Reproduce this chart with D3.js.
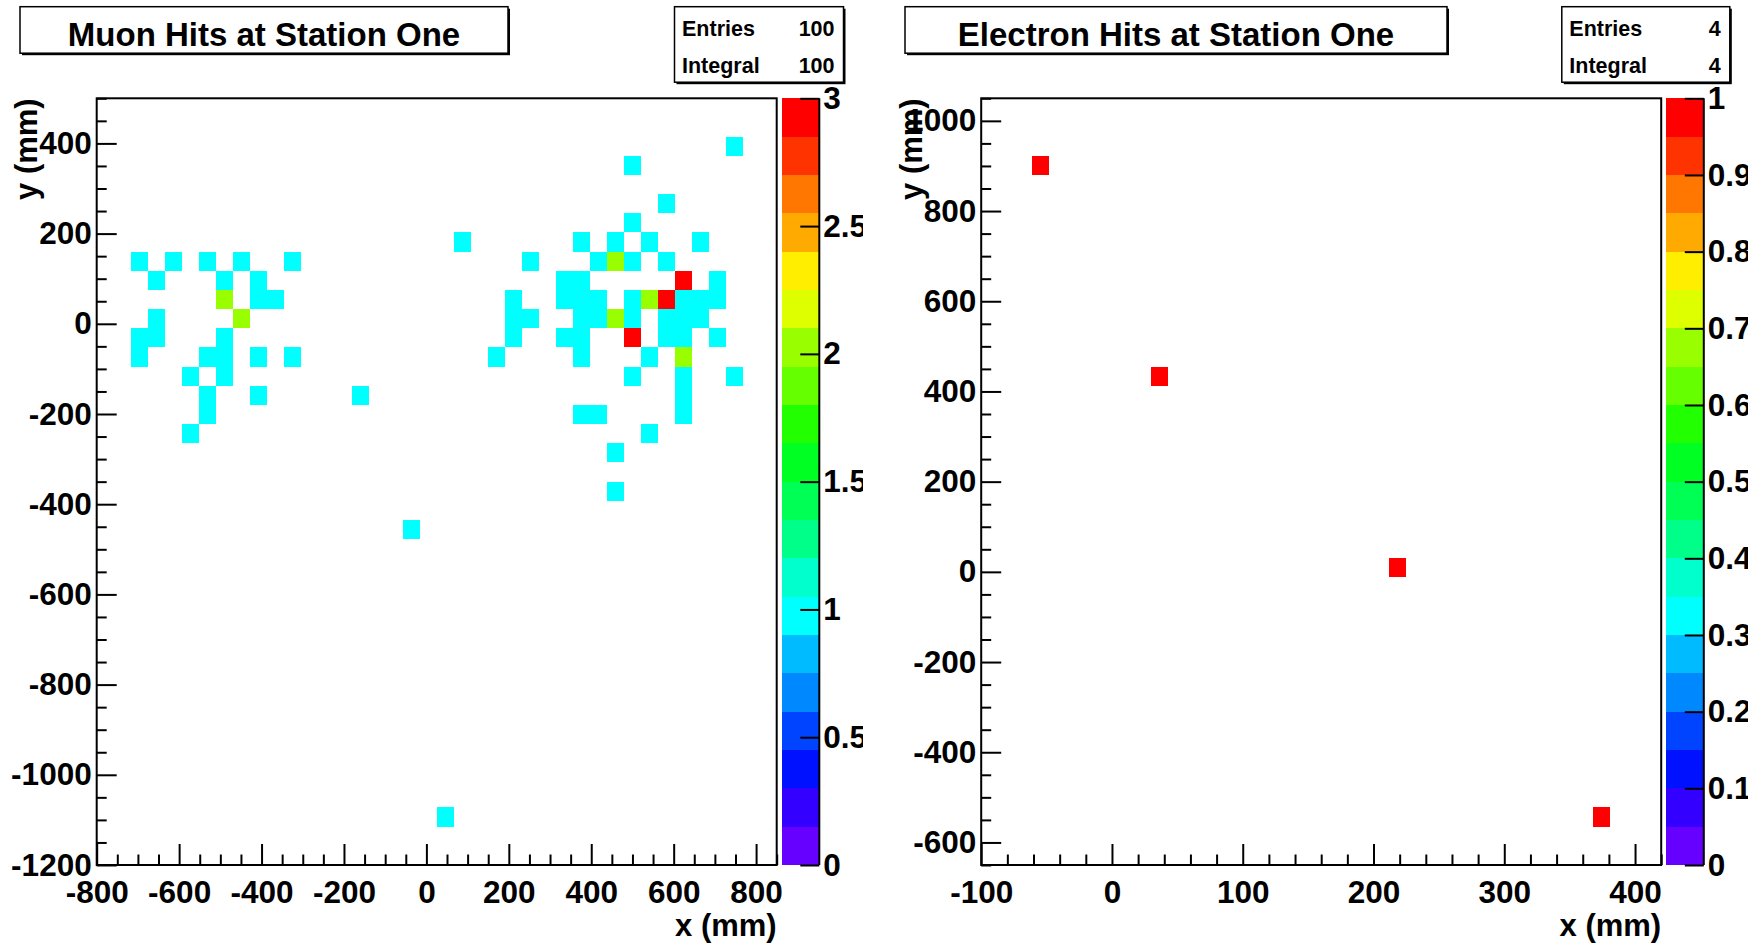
<!DOCTYPE html>
<html><head><meta charset="utf-8">
<script src="https://cdn.jsdelivr.net/npm/d3@7"></script>
<style>html,body{margin:0;padding:0;background:#fff;} svg{display:block;}</style>
</head><body>
<svg id="c" width="1748" height="945"></svg>
<script>
// ---------------- data (bin-centre positions in mm, entries per bin) ----------------
const muonHitX = [
  -697,-614,-532,-449,-326,
  -656,-491,-408,
  -491,-408,-367,
  -656,-449,
  -697,-656,-491,
  -697,-532,-491,-408,-326,
  -573,-491,
  -532,-408,-161,
  -532,
  -573,
  -37, 46, 87,
  747,
  499,
  582,
  499,
  376,458,541,664,
  252,417,458,499,582,
  334,376,623,706,
  211,334,376,417,499,541,582,623,664,706,
  211,252,376,417,458,499,582,623,664,
  211,334,376,499,582,623,706,
  169,376,541,623,
  499,623,747,
  623,
  376,417,623,
  541,
  458,
  458
];
const muonHitY = [
  139,139,139,139,139,
  96,96,96,
  54,54,54,
  11,11,
  -31,-31,-31,
  -74,-74,-74,-74,-74,
  -116,-116,
  -159,-159,-159,
  -201,
  -244,
  -456,-1094,181,
  394,
  351,
  266,
  224,
  181,181,181,181,
  139,139,139,139,139,
  96,96,96,96,
  54,54,54,54,54,54,54,54,54,54,
  11,11,11,11,11,11,11,11,11,
  -31,-31,-31,-31,-31,-31,-31,
  -74,-74,-74,-74,
  -116,-116,-116,
  -159,
  -201,-201,-201,
  -244,
  -286,
  -371
];
const muonHitCount = [
  1,1,1,1,1,
  1,1,1,
  2,1,1,
  1,2,
  1,1,1,
  1,1,1,1,1,
  1,1,
  1,1,1,
  1,
  1,
  1,1,1,
  1,
  1,
  1,
  1,
  1,1,1,1,
  1,1,2,1,1,
  1,1,3,1,
  1,1,1,1,1,2,3,1,1,1,
  1,1,1,1,2,1,1,1,1,
  1,1,1,3,1,1,1,
  1,1,1,2,
  1,1,1,
  1,
  1,1,1,
  1,
  1,
  1
];
const electronHitX = [-54.5, 36.5, 218.5, 374.5];
const electronHitY = [901, 434, 9, -544];
const electronHitCount = [1, 1, 1, 1];

const muonXRange = [-800, 850];
const muonYRange = [-1200, 500];
const electronXRange = [-100, 420];
const electronYRange = [-650, 1050];
const binsX = 40, binsY = 40;

const muonXTicks = [-800,-600,-400,-200,0,200,400,600,800];
const muonYTicks = [-1200,-1000,-800,-600,-400,-200,0,200,400];
const electronXTicks = [-100,0,100,200,300,400];
const electronYTicks = [-600,-400,-200,0,200,400,600,800,1000];
const muonZTicks = [0,0.5,1,1.5,2,2.5,3];
const electronZTicks = [0,0.1,0.2,0.3,0.4,0.5,0.6,0.7,0.8,0.9,1];

const paletteColors = [
  "#6600ff","#3300ff","#0011ff","#0044ff","#0088ff",
  "#00bbff","#00ffff","#00ffcc","#00ff88","#00ff55",
  "#00ff22","#22ff00","#66ff00","#99ff00","#ddff00",
  "#ffee00","#ffaa00","#ff7700","#ff3300","#ff0000"
];

const muonTitle = "Muon Hits at Station One";
const electronTitle = "Electron Hits at Station One";
const statLabels = ["Entries", "Integral"];
const muonStats = ["100", "100"];
const electronStats = ["4", "4"];
const xTitle = "x (mm)", yTitle = "y (mm)";

// ---------------- drawing ----------------
const FONT = "'Liberation Sans', Arial, Helvetica, sans-serif";
const svg = d3.select("#c");
const defs = svg.append("defs");
defs.append("clipPath").attr("id","padL").append("rect")
  .attr("x",0).attr("y",0).attr("width",863).attr("height",945);

const FL = 96.7, FR = 776.7, FT = 98.3, FB = 865;
const CBL = 781.7, CBR = 819.3;
const LABEL_FS = 31.5;
const fmt = d => String(d);

function drawPanel(g, cfg) {
  const x = d3.scaleLinear().domain(cfg.xRange).range([FL, FR]);
  const y = d3.scaleLinear().domain(cfg.yRange).range([FB, FT]);
  const bw = (cfg.xRange[1]-cfg.xRange[0])/binsX;
  const bh = (cfg.yRange[1]-cfg.yRange[0])/binsY;
  const zMax = d3.max(cfg.counts);
  const nCol = paletteColors.length;
  const colorOf = v => paletteColors[Math.min(nCol-1, Math.floor(v/zMax*nCol))];

  const cells = cfg.hx.map((hx,i) => {
    const j = Math.floor((hx - cfg.xRange[0])/bw);
    const k = Math.floor((cfg.hy[i] - cfg.yRange[0])/bh);
    return {x0: cfg.xRange[0]+j*bw, x1: cfg.xRange[0]+(j+1)*bw,
            y0: cfg.yRange[0]+k*bh, y1: cfg.yRange[0]+(k+1)*bh, v: cfg.counts[i]};
  });
  g.append("g").selectAll("rect").data(cells).join("rect")
    .attr("x", d => x(d.x0)).attr("y", d => y(d.y1))
    .attr("width", d => x(d.x1)-x(d.x0)).attr("height", d => y(d.y0)-y(d.y1))
    .attr("fill", d => colorOf(d.v)).attr("shape-rendering","crispEdges");

  // frame
  g.append("rect").attr("x",FL).attr("y",FT).attr("width",FR-FL).attr("height",FB-FT)
    .attr("fill","none").attr("stroke","#000").attr("stroke-width",2);

  const styleAxis = (a, fs) => {
    a.select(".domain").remove();
    a.selectAll("line").attr("stroke","#000").attr("stroke-width",2);
    a.attr("font-family",FONT).attr("font-size",fs).attr("font-weight","bold");
    a.selectAll("text").attr("fill","#000");
  };
  // x axis
  const xMinor = d3.range(cfg.xRange[0], cfg.xRange[1]+1e-9, cfg.xMinorStep)
      .filter(v => !cfg.xTicks.some(t => Math.abs(t-v)<1e-6));
  const ax = g.append("g").attr("transform",`translate(0,${FB})`)
    .call(d3.axisBottom(x).tickValues(cfg.xTicks).tickSize(-21).tickSizeOuter(0)
      .tickPadding(15.5).tickFormat(fmt));
  styleAxis(ax, LABEL_FS);
  const axm = g.append("g").attr("transform",`translate(0,${FB})`)
    .call(d3.axisBottom(x).tickValues(xMinor).tickSize(-10.5).tickSizeOuter(0).tickFormat(""));
  styleAxis(axm, LABEL_FS);
  // y axis
  const yMinor = d3.range(cfg.yRange[0], cfg.yRange[1]+1e-9, cfg.yMinorStep)
      .filter(v => !cfg.yTicks.some(t => Math.abs(t-v)<1e-6));
  const ay = g.append("g").attr("transform",`translate(${FL},0)`)
    .call(d3.axisLeft(y).tickValues(cfg.yTicks).tickSize(-20).tickSizeOuter(0)
      .tickPadding(5).tickFormat(fmt));
  styleAxis(ay, LABEL_FS);
  const aym = g.append("g").attr("transform",`translate(${FL},0)`)
    .call(d3.axisLeft(y).tickValues(yMinor).tickSize(-10).tickSizeOuter(0).tickFormat(""));
  styleAxis(aym, LABEL_FS);

  // colour bar
  const z = d3.scaleLinear().domain([0, zMax]).range([FB, FT]);
  const bands = d3.range(nCol).map(i => ({lo: i*zMax/nCol, hi: (i+1)*zMax/nCol, c: paletteColors[i]}));
  g.append("g").selectAll("rect").data(bands).join("rect")
    .attr("x",CBL).attr("width",CBR-CBL)
    .attr("y", d => z(d.hi)).attr("height", d => z(d.lo)-z(d.hi))
    .attr("fill", d => d.c).attr("shape-rendering","crispEdges");
  const az = g.append("g").attr("transform",`translate(${CBR},0)`)
    .call(d3.axisRight(z).tickValues(cfg.zTicks).tickSize(-19).tickSizeOuter(0)
      .tickPadding(4).tickFormat(fmt));
  styleAxis(az, LABEL_FS);
  g.append("line").attr("x1",CBR).attr("x2",CBR).attr("y1",FT).attr("y2",FB)
    .attr("stroke","#000").attr("stroke-width",2);

  // axis titles
  g.append("text").attr("x",FR).attr("y",936).attr("text-anchor","end")
    .attr("font-family",FONT).attr("font-weight","bold").attr("font-size",31).text(xTitle);
  g.append("text").attr("transform",`translate(37,${FT}) rotate(-90)`).attr("text-anchor","end")
    .attr("font-family",FONT).attr("font-weight","bold").attr("font-size",31).text(yTitle);
}

function drawBox(x0, y0, w, h) {
  svg.append("rect").attr("x",x0+2).attr("y",y0+2).attr("width",w).attr("height",h).attr("fill","#000");
  svg.append("rect").attr("x",x0).attr("y",y0).attr("width",w).attr("height",h)
    .attr("fill","#fff").attr("stroke","#000").attr("stroke-width",1.5);
}

function drawHeader(tx, tw, title, sx, sw, stats) {
  drawBox(tx, 6.7, tw, 46.5);
  svg.append("text").attr("x", tx+tw/2).attr("y",46).attr("text-anchor","middle")
    .attr("font-family",FONT).attr("font-weight","bold").attr("font-size",33).text(title);
  drawBox(sx, 6.7, sw, 75.5);
  statLabels.forEach((lab,i) => {
    const by = 36 + i*36.5;
    svg.append("text").attr("x", sx+7.5).attr("y", by)
      .attr("font-family",FONT).attr("font-weight","bold").attr("font-size",21.5).text(lab);
    svg.append("text").attr("x", sx+sw-9).attr("y", by).attr("text-anchor","end")
      .attr("font-family",FONT).attr("font-weight","bold").attr("font-size",21.5).text(stats[i]);
  });
}

const gL = svg.append("g").attr("clip-path","url(#padL)");
drawPanel(gL, {xRange: muonXRange, yRange: muonYRange, hx: muonHitX, hy: muonHitY, counts: muonHitCount,
  xTicks: muonXTicks, yTicks: muonYTicks, zTicks: muonZTicks, xMinorStep: 50, yMinorStep: 50});
const gR = svg.append("g").attr("transform","translate(884.5,0)");
drawPanel(gR, {xRange: electronXRange, yRange: electronYRange, hx: electronHitX, hy: electronHitY, counts: electronHitCount,
  xTicks: electronXTicks, yTicks: electronYTicks, zTicks: electronZTicks, xMinorStep: 20, yMinorStep: 50});

drawHeader(20, 488, muonTitle, 674.5, 169, muonStats);
drawHeader(905, 542, electronTitle, 1561.8, 168, electronStats);
</script>
</body></html>
